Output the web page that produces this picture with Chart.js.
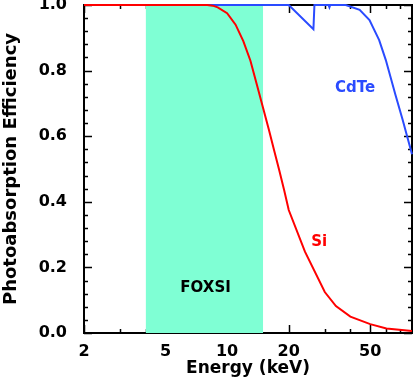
<!DOCTYPE html>
<html>
<head>
<meta charset="utf-8">
<style>
  html, body { margin: 0; padding: 0; background: #fff; }
  canvas { display: block; }
</style>
<script src="https://cdn.jsdelivr.net/npm/chart.js@4.4.0/dist/chart.umd.min.js"></script>
</head>
<body>
<canvas id="chart" width="413" height="384"></canvas>
<script>
// Si photoabsorption efficiency (energy in keV)
const siEnergy = [2, 4, 6, 8, 8.5, 9, 10, 11, 12, 13, 14, 15, 16, 17, 18, 19, 20, 24, 30, 34, 40, 50, 60, 80];
const siEff    = [1, 1, 1, 1, 0.998, 0.993, 0.975, 0.94, 0.89, 0.83, 0.755, 0.685, 0.62, 0.555, 0.495, 0.435, 0.375, 0.248, 0.125, 0.082, 0.05, 0.027, 0.014, 0.006];

// CdTe photoabsorption efficiency, with the Cd and Te K-edges
const cdteEnergy = [2, 20, 26.4, 26.7, 31.3, 31.6, 31.9, 38, 44.4, 49.6, 55.3, 59.6, 66.5, 72, 80];
const cdteEff    = [1, 1, 0.926, 1, 1, 0.993, 1, 1, 0.985, 0.954, 0.893, 0.832, 0.725, 0.65, 0.545];

// FOXSI energy band
const foxsiBand = [4, 15];

// axis ticks
const xLabelTicks = [2, 5, 10, 20, 50];
const xMinorTicks = [3, 4, 6, 7, 8, 9, 30, 40, 60, 70];
const yLabelTicks = [0, 0.2, 0.4, 0.6, 0.8, 1.0];
const yMinorStep = 0.04;

const BOLD = 'bold';
const FONT = "'DejaVu Sans', sans-serif";

const pts = (xs, ys) => xs.map((x, i) => ({ x: x, y: ys[i] }));

// frame + inward ticks on all four sides (IDL style)
const framePlugin = {
  id: 'frame',
  beforeDatasetsDraw(chart) {
    const { ctx, chartArea: a, scales: { x, y } } = chart;
    ctx.save();
    ctx.strokeStyle = '#000';
    ctx.lineWidth = 2;
    ctx.strokeRect(a.left, a.top, a.right - a.left, a.bottom - a.top);
    ctx.lineWidth = 1.5;
    ctx.beginPath();
    const xt = (v, len) => {
      const px = Math.round(x.getPixelForValue(v)) + 0.5;
      ctx.moveTo(px, a.bottom); ctx.lineTo(px, a.bottom - len);
      ctx.moveTo(px, a.top); ctx.lineTo(px, a.top + len);
    };
    const yt = (v, len) => {
      const py = Math.round(y.getPixelForValue(v)) + 0.5;
      ctx.moveTo(a.left, py); ctx.lineTo(a.left + len, py);
      ctx.moveTo(a.right, py); ctx.lineTo(a.right - len, py);
    };
    xLabelTicks.forEach(v => xt(v, 8));
    xMinorTicks.forEach(v => xt(v, 4));
    yLabelTicks.forEach(v => yt(v, 8));
    for (let v = yMinorStep; v < 1; v += yMinorStep) yt(v, 4);
    ctx.stroke();
    ctx.restore();
  },
  afterDatasetsDraw(chart) {
    const { ctx, scales: { x, y } } = chart;
    ctx.save();
    ctx.textAlign = 'center';
    ctx.textBaseline = 'middle';
    ctx.font = `${BOLD} 15px ${FONT}`;
    ctx.fillStyle = '#000';
    ctx.fillText('FOXSI', x.getPixelForValue(7.85), y.getPixelForValue(0.137));
    ctx.fillStyle = '#ff0000';
    ctx.fillText('Si', x.getPixelForValue(28.2), y.getPixelForValue(0.277));
    ctx.fillStyle = '#2a4bff';
    ctx.fillText('CdTe', x.getPixelForValue(42.2), y.getPixelForValue(0.747));
    ctx.restore();
  }
};

new Chart(document.getElementById('chart'), {
  type: 'line',
  data: {
    datasets: [
      {
        label: 'Si',
        data: pts(siEnergy, siEff),
        borderColor: '#ff0000',
        borderWidth: 2,
        pointRadius: 0,
        fill: false,
        clip: 3,
        order: 0
      },
      {
        label: 'CdTe',
        data: pts(cdteEnergy, cdteEff),
        borderColor: '#2a4bff',
        borderWidth: 2,
        pointRadius: 0,
        fill: false,
        clip: 3,
        order: 1
      },
      {
        label: 'FOXSI',
        data: pts(foxsiBand, [1, 1]),
        borderWidth: 0,
        borderColor: 'rgba(0,0,0,0)',
        backgroundColor: 'rgb(127,255,212)',
        pointRadius: 0,
        fill: 'origin',
        order: 2
      }
    ]
  },
  options: {
    responsive: false,
    animation: false,
    layout: { autoPadding: false, padding: { top: 5, right: 1, left: 0, bottom: 0 } },
    plugins: { legend: { display: false }, tooltip: { enabled: false } },
    scales: {
      x: {
        type: 'logarithmic',
        min: 2,
        max: 80,
        grid: { display: false },
        border: { display: false },
        afterBuildTicks: s => { s.ticks = xLabelTicks.map(v => ({ value: v })); },
        afterFit: s => { s.height = 51; s.paddingLeft = 0; s.paddingRight = 0; },
        ticks: {
          autoSkip: false,
          maxRotation: 0,
          padding: 1,
          color: '#000',
          font: { family: FONT, size: 16, weight: BOLD },
          callback: v => String(v)
        },
        title: {
          display: true,
          text: 'Energy (keV)',
          color: '#000',
          font: { family: FONT, size: 17, weight: BOLD },
          padding: { top: 0, bottom: 5 }
        }
      },
      y: {
        min: 0,
        max: 1,
        grid: { display: false },
        border: { display: false },
        afterBuildTicks: s => { s.ticks = yLabelTicks.map(v => ({ value: v })); },
        afterFit: s => { s.width = 84; s.paddingTop = 0; s.paddingBottom = 0; },
        ticks: {
          padding: 9,
          color: '#000',
          font: { family: FONT, size: 16, weight: BOLD },
          callback: v => v.toFixed(1)
        },
        title: {
          display: true,
          text: 'Photoabsorption Efficiency',
          color: '#000',
          font: { family: FONT, size: 18, weight: BOLD },
          padding: { top: 1, bottom: 0 }
        }
      }
    }
  },
  plugins: [framePlugin]
});
</script>
</body>
</html>
